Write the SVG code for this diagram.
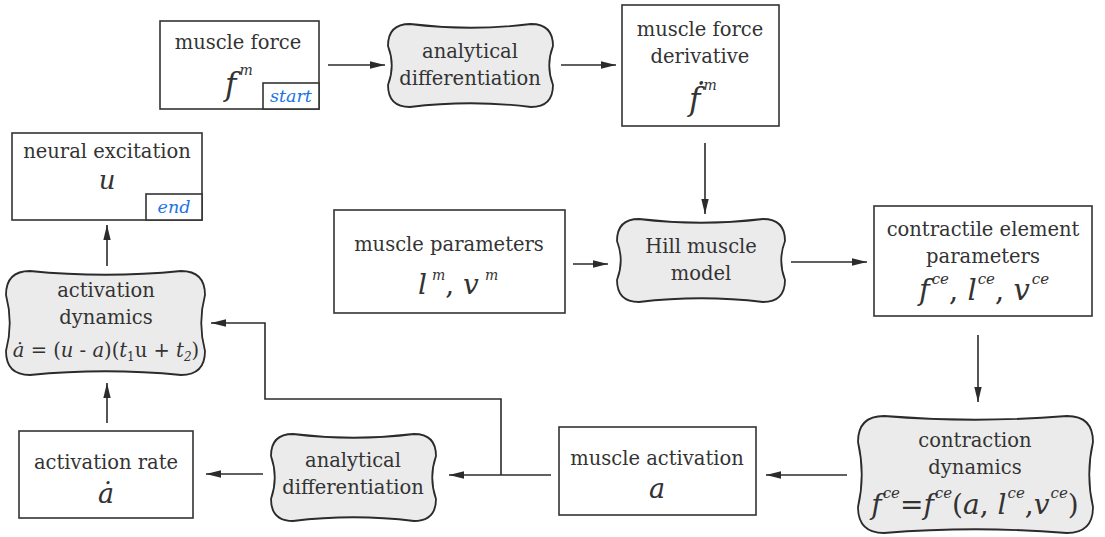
<svg xmlns="http://www.w3.org/2000/svg" width="1105" height="537" viewBox="0 0 1105 537" font-family="'DejaVu Serif', serif">
<defs>
<marker id="ah" markerUnits="userSpaceOnUse" markerWidth="16" markerHeight="10" refX="15" refY="5" orient="auto"><path d="M0,1.3 L15,5 L0,8.7 Z" fill="#2b2b2b"/></marker>
<style>
.box{fill:#fff;stroke:#333;stroke-width:1.6}
.blob{fill:#ebebeb;stroke:#2b2b2b;stroke-width:1.8}
.t{font-size:19.5px;fill:#333;text-anchor:middle}
.m{font-style:italic;fill:#333}
.tag{font-style:italic;font-size:17.5px;fill:#1a73e8;text-anchor:middle}
.c{fill:none;stroke:#2b2b2b;stroke-width:1.6}
</style>
</defs>
<rect width="1105" height="537" fill="#fff"/>

<g id="connectors">
<line class="c" x1="328" y1="65" x2="385" y2="65" marker-end="url(#ah)"/>
<line class="c" x1="561" y1="65" x2="616" y2="65" marker-end="url(#ah)"/>
<line class="c" x1="705" y1="143" x2="705" y2="214" marker-end="url(#ah)"/>
<line class="c" x1="573" y1="264" x2="608" y2="264" marker-end="url(#ah)"/>
<line class="c" x1="791" y1="262" x2="867" y2="262" marker-end="url(#ah)"/>
<line class="c" x1="978" y1="335" x2="978" y2="402" marker-end="url(#ah)"/>
<line class="c" x1="847" y1="475" x2="766" y2="475" marker-end="url(#ah)"/>
<line class="c" x1="551" y1="475" x2="449" y2="475" marker-end="url(#ah)"/>
<polyline class="c" points="501,475 501,399 265,399 265,323 211,323" marker-end="url(#ah)"/>
<line class="c" x1="263" y1="474" x2="206" y2="474" marker-end="url(#ah)"/>
<line class="c" x1="107" y1="423" x2="107" y2="383" marker-end="url(#ah)"/>
<line class="c" x1="107" y1="266" x2="107" y2="225" marker-end="url(#ah)"/>
</g>

<g id="muscle-force">
<rect class="box" x="160" y="21" width="159" height="88"/>
<text class="t" x="238" y="49">muscle force</text>
<text class="m" x="225" y="95" font-size="31">f<tspan font-size="14" dx="3" dy="-20">m</tspan></text>
<rect class="box" x="263" y="83" width="56" height="26"/>
<text class="tag" x="291" y="102">start</text>
</g>

<g id="analytical-differentiation-1">
<path class="blob" d="M 410 24 C 450.3 29 490.7 29 531 24 Q 553 24 553 46 C 548 59 548 72 553 85 Q 553 107 531 107 C 490.7 102 450.3 102 410 107 Q 388 107 388 85 C 393 72 393 59 388 46 Q 388 24 410 24 Z"/>
<text class="t" x="470" y="58">analytical</text>
<text class="t" x="470" y="85">differentiation</text>
</g>

<g id="muscle-force-derivative">
<rect class="box" x="622" y="5" width="157" height="121"/>
<text class="t" x="700" y="36">muscle force</text>
<text class="t" x="700" y="63">derivative</text>
<text class="m" x="689" y="110" font-size="31">ḟ<tspan font-size="14" dx="3" dy="-20">m</tspan></text>
</g>

<g id="muscle-parameters">
<rect class="box" x="334" y="210" width="231" height="103"/>
<text class="t" x="449" y="251">muscle parameters</text>
<text class="m" x="418" y="294" font-size="28">l<tspan font-size="14" dx="5" dy="-14">m</tspan><tspan font-style="normal" dy="14">, </tspan>v<tspan font-size="14" dx="6" dy="-14">m</tspan></text>
</g>

<g id="hill-muscle-model">
<path class="blob" d="M 639 219 C 680.3 224 721.7 224 763 219 Q 785 219 785 241 C 780 254 780 267 785 280 Q 785 302 763 302 C 721.7 297 680.3 297 639 302 Q 617 302 617 280 C 622 267 622 254 617 241 Q 617 219 639 219 Z"/>
<text class="t" x="701" y="253">Hill muscle</text>
<text class="t" x="701" y="280">model</text>
</g>

<g id="contractile-element-parameters">
<rect class="box" x="874" y="206" width="218" height="110"/>
<text class="t" x="983" y="236">contractile element</text>
<text class="t" x="983" y="263">parameters</text>
<text class="m" x="984" y="300" font-size="29" text-anchor="middle">f<tspan font-size="15" dx="2" dy="-16">ce</tspan><tspan font-style="normal" dy="16">, </tspan>l<tspan font-size="15" dx="1" dy="-16">ce</tspan><tspan font-style="normal" dy="16">, </tspan>v<tspan font-size="15" dx="2" dy="-16">ce</tspan></text>
</g>

<g id="contraction-dynamics">
<path class="blob" d="M 884 416 C 945 421 1006 421 1067 416 Q 1093 416 1093 442 C 1088 463.7 1088 485.3 1093 507 Q 1093 533 1067 533 C 1006 528 945 528 884 533 Q 858 533 858 507 C 863 485.3 863 463.7 858 442 Q 858 416 884 416 Z"/>
<text class="t" x="975" y="447">contraction</text>
<text class="t" x="975" y="474">dynamics</text>
<text class="m" x="975" y="514" font-size="28" text-anchor="middle">f<tspan font-size="15" dx="1" dy="-16">ce</tspan><tspan font-style="normal" dy="16">=</tspan>f<tspan font-size="15" dx="1" dy="-16">ce</tspan><tspan font-style="normal" dy="16">(</tspan>a<tspan font-style="normal">, </tspan>l<tspan font-size="15" dx="1" dy="-16">ce</tspan><tspan font-style="normal" dy="16">,</tspan>v<tspan font-size="15" dx="1" dy="-16">ce</tspan><tspan font-style="normal" dy="16">)</tspan></text>
</g>

<g id="muscle-activation">
<rect class="box" x="559" y="427" width="197" height="88"/>
<text class="t" x="657" y="465">muscle activation</text>
<text class="m" x="657" y="498" font-size="27" text-anchor="middle">a</text>
</g>

<g id="analytical-differentiation-2">
<path class="blob" d="M 293 434 C 333.3 439 373.7 439 414 434 Q 436 434 436 456 C 431 470.3 431 484.7 436 499 Q 436 521 414 521 C 373.7 516 333.3 516 293 521 Q 271 521 271 499 C 276 484.7 276 470.3 271 456 Q 271 434 293 434 Z"/>
<text class="t" x="353" y="467">analytical</text>
<text class="t" x="353" y="494">differentiation</text>
</g>

<g id="activation-rate">
<rect class="box" x="19" y="431" width="174" height="87"/>
<text class="t" x="106" y="469">activation rate</text>
<text class="m" x="106" y="503" font-size="27" text-anchor="middle">ȧ</text>
</g>

<g id="activation-dynamics">
<path class="blob" d="M 30 271 C 80.3 276 130.7 276 181 271 Q 205 271 205 295 C 200 313.7 200 332.3 205 351 Q 205 375 181 375 C 130.7 370 80.3 370 30 375 Q 6 375 6 351 C 11 332.3 11 313.7 6 295 Q 6 271 30 271 Z"/>
<text class="t" x="106" y="297">activation</text>
<text class="t" x="106" y="324">dynamics</text>
<text class="t" x="106" y="357" font-size="17.5"><tspan font-style="italic">ȧ</tspan> = (<tspan font-style="italic">u</tspan> - <tspan font-style="italic">a</tspan>)(<tspan font-style="italic">t</tspan><tspan font-size="12" dy="4">1</tspan><tspan dy="-4">u + </tspan><tspan font-style="italic">t</tspan><tspan font-size="12" font-style="italic" dy="4">2</tspan><tspan dy="-4">)</tspan></text>
</g>

<g id="neural-excitation">
<rect class="box" x="12" y="133" width="190" height="87"/>
<text class="t" x="107" y="158">neural excitation</text>
<text class="m" x="107" y="189" font-size="26" text-anchor="middle">u</text>
<rect class="box" x="146" y="194" width="56" height="26"/>
<text class="tag" x="174" y="213">end</text>
</g>
</svg>
